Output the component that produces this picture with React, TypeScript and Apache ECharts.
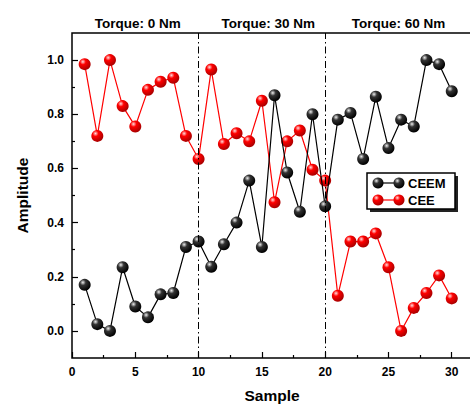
import React, { useEffect, useRef } from "react";
import * as echarts from "echarts";

const samples = Array.from({ length: 30 }, (_, i) => i + 1);
const ceem = [0.17, 0.025, 0.0, 0.235, 0.09, 0.05, 0.135, 0.14, 0.31, 0.33, 0.237, 0.32, 0.4, 0.555, 0.31, 0.87, 0.585, 0.44, 0.8, 0.46, 0.78, 0.805, 0.635, 0.865, 0.675, 0.78, 0.755, 1.0, 0.985, 0.885];
const cee = [0.985, 0.72, 1.0, 0.83, 0.755, 0.89, 0.92, 0.935, 0.72, 0.635, 0.965, 0.69, 0.73, 0.7, 0.85, 0.475, 0.7, 0.74, 0.595, 0.555, 0.13, 0.33, 0.33, 0.36, 0.235, 0.0, 0.085, 0.14, 0.205, 0.12];
const xTickMin = 0, xTickMax = 30, xTickStep = 5;
const yTickMin = 0, yTickMax = 1.0, yTickStep = 0.2;
const dividers = [10, 20];
const regionLabels = ["Torque: 0 Nm", "Torque: 30 Nm", "Torque: 60 Nm"];
const regionCenters = [5.2, 15.5, 25.8];

const FONT = "'Liberation Sans', Arial, sans-serif";

function sphere(base: string, dark: string, light: string) {
  return new echarts.graphic.RadialGradient(0.35, 0.3, 0.7, [
    { offset: 0, color: light },
    { offset: 0.35, color: base },
    { offset: 1, color: dark },
  ]);
}

export default function App() {
  const ref = useRef<HTMLDivElement>(null);
  useEffect(() => {
    document.body.style.margin = "0";
    const chart = echarts.init(ref.current!, null, { renderer: "svg" });
    const blackBall = sphere("#333", "#000", "#eee");
    const redBall = sphere("#f00", "#a00", "#fdd");
    const data1 = samples.map((s, i) => [s, ceem[i]]);
    const data2 = samples.map((s, i) => [s, cee[i]]);
    const left = 72, top = 33, bottom = 48, H = 406;
    const gridW = 400;
    const xMin = 0, xMax = 31.6, yMin = -0.1, yMax = 1.1;
    const pxX = gridW / (xMax - xMin);
    const gridH = H - top - bottom;
    const pxY = gridH / (yMax - yMin);
    const xPx = (v: number) => left + (v - xMin) * pxX;

    const legendG = (y: number, ball: any, lineColor: string, label: string) => [
      { type: "line", shape: { x1: 378, y1: y, x2: 399, y2: y }, style: { stroke: lineColor, lineWidth: 1.2 } },
      { type: "circle", shape: { cx: 378, cy: y, r: 5.5 }, style: { fill: ball } },
      { type: "circle", shape: { cx: 399, cy: y, r: 5.5 }, style: { fill: ball } },
      { type: "text", x: 408, y: y, style: { text: label, fill: "#000", font: `bold 13px ${FONT}`, textVerticalAlign: "middle" } },
    ];
    const tickStyle = { color: "#000", width: 1.2 };
    const labelStyle = { fontFamily: FONT, fontWeight: "bold", fontSize: 12, color: "#000" };
    const nameStyle = { fontFamily: FONT, fontWeight: "bold", fontSize: 15.5, color: "#000" };
    const gridBase = { containLabel: false, outerBoundsMode: "none" };

    chart.setOption({
      animation: false,
      grid: [
        { ...gridBase, left, top, width: gridW, bottom, show: true, borderColor: "#000", borderWidth: 1.5, backgroundColor: "transparent" },
        { ...gridBase, left, top, width: (xTickMax - xTickMin) * pxX, bottom },
        { ...gridBase, left, top: top + (yMax - yTickMax) * pxY, width: gridW, bottom: bottom + (yTickMin - yMin) * pxY },
      ],
      xAxis: [
        {
          gridIndex: 0, type: "value", min: xMin, max: xMax,
          name: "Sample", nameLocation: "middle", nameGap: 29, nameTextStyle: nameStyle,
          axisLine: { show: false }, axisTick: { show: false }, axisLabel: { show: false }, splitLine: { show: false },
        },
        {
          gridIndex: 1, type: "value", min: xTickMin, max: xTickMax, interval: xTickStep,
          axisLine: { show: false, onZero: false },
          axisTick: { show: true, inside: true, length: 6, lineStyle: tickStyle },
          minorTick: { show: true, splitNumber: 2, length: 3, lineStyle: tickStyle },
          axisLabel: { ...labelStyle, margin: 8 },
          splitLine: { show: false },
        },
        {
          gridIndex: 2, type: "value", min: xTickMin, max: xTickMax, show: false,
        },
      ],
      yAxis: [
        {
          gridIndex: 0, type: "value", min: yMin, max: yMax,
          name: "Amplitude", nameLocation: "middle", nameGap: 42, nameTextStyle: nameStyle,
          axisLine: { show: false }, axisTick: { show: false }, axisLabel: { show: false }, splitLine: { show: false },
        },
        {
          gridIndex: 1, type: "value", min: yMin, max: yMax, show: false,
        },
        {
          gridIndex: 2, type: "value", min: yTickMin, max: yTickMax, interval: yTickStep,
          axisLine: { show: false, onZero: false },
          axisTick: { show: true, inside: true, length: 6, lineStyle: tickStyle },
          minorTick: { show: true, splitNumber: 2, length: 3, lineStyle: tickStyle },
          axisLabel: { ...labelStyle, margin: 8, formatter: (v: number) => v.toFixed(1) },
          splitLine: { show: false },
        },
      ],
      series: [
        {
          name: "CEEM", type: "line", data: data1, symbol: "circle", symbolSize: 12,
          lineStyle: { color: "#000", width: 1.2 }, itemStyle: { color: blackBall },
          markLine: {
            silent: true, symbol: "none", label: { show: false },
            lineStyle: { color: "#000", width: 1, type: [7, 3, 1.5, 3] },
            data: dividers.map((d) => ({ xAxis: d })),
          },
          z: 3,
        },
        {
          name: "CEE", type: "line", data: data2, symbol: "circle", symbolSize: 12,
          lineStyle: { color: "#f00", width: 1.2 }, itemStyle: { color: redBall },
          z: 2,
        },
      ],
      graphic: [
        ...regionLabels.map((t, i) => ({
          type: "text", x: xPx(regionCenters[i]), y: 23,
          style: { text: t, fill: "#000", font: `bold 13.5px ${FONT}`, textAlign: "center", textVerticalAlign: "middle" },
        })),
        { type: "rect", shape: { x: 370, y: 176, width: 88, height: 36 }, style: { fill: "#222" } },
        { type: "rect", shape: { x: 367, y: 173, width: 88, height: 36 }, style: { fill: "#fff", stroke: "#000", lineWidth: 1.5 } },
        ...legendG(183, blackBall, "#000", "CEEM"),
        ...legendG(200, redBall, "#f00", "CEE"),
      ],
    });
    return () => chart.dispose();
  }, []);
  return <div ref={ref} style={{ width: 470, height: 406 }} />;
}
